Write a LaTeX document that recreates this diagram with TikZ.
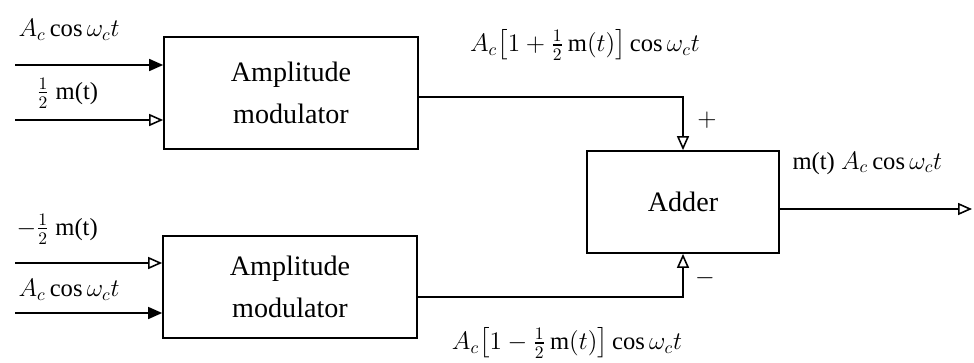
\documentclass[tikz,border=0pt]{standalone}
\usepackage{amsmath}
\usepackage{fontspec}
\setmainfont{Liberation Serif}
\usetikzlibrary{arrows.meta, positioning, calc}

\begin{document}
\begin{tikzpicture}[x=0.02cm, y=-0.02cm, line width=0.9pt,
    font=\fontsize{14}{22}\selectfont, inner sep=1pt,
    block/.style={draw, line width=1pt, minimum width=5.08cm, align=center,
                  font=\fontsize{16}{24}\selectfont},
    full/.style={-{Triangle[length=2.8mm, width=2.4mm]}},
    hollow/.style={-{Triangle[open, length=2.8mm, width=2.4mm, fill=white]}}]
  \useasboundingbox (0,0) rectangle (974,362);
  \node[block, minimum height=2.24cm] (upper) at (291,93) {Amplitude\\modulator};
  \node[block, minimum height=2.04cm] (lower) at (290,287) {Amplitude\\modulator};
  \node[draw, line width=1pt, minimum width=3.84cm, minimum height=2.04cm,
        font=\fontsize{16}{24}\selectfont]
    (adder) at (683,202) {Adder};
  \coordinate (in1) at (15,65);
  \coordinate (in2) at (15,120);
  \coordinate (in3) at (15,263);
  \coordinate (in4) at (15,313);
  \coordinate (out) at (972,209);
  \draw[full] (in1) -- (in1 -| upper.west);
  \draw[hollow] (in2) -- (in2 -| upper.west);
  \draw[hollow] (in3) -- (in3 -| lower.west);
  \draw[full] (in4) -- (in4 -| lower.west);
  \draw[hollow] ([yshift=-0.08cm]upper.east) -| (adder.north);
  \draw[hollow] ([yshift=-0.2cm]lower.east) -| (adder.south);
  \draw[hollow] (adder.east |- out) -- (out);
  \node[anchor=west] (carr1) at (16,30) {$A_c\cos\omega_c t$};
  \node[anchor=west] (msg1) at (34,93) {$\frac{1}{2}$ m(t)};
  \node[anchor=west] (msg2) at (14,229) {$-\frac{1}{2}$ m(t)};
  \node[anchor=west] (carr2) at (16,290) {$A_c\cos\omega_c t$};
  \node (sum1) at (585,45)
    {$A_c\bigl[1+\frac{1}{2}\,\mathrm{m}(t)\bigr]\cos\omega_c t$};
  \node (plus) at (707,120) {$+$};
  \node (minus) at (705,278) {$-$};
  \node[anchor=west] (res) at (790,163) {m(t) $A_c\cos\omega_c t$};
  \node (sum2) at (567,343)
    {$A_c\bigl[1-\frac{1}{2}\,\mathrm{m}(t)\bigr]\cos\omega_c t$};
\end{tikzpicture}
\end{document}
